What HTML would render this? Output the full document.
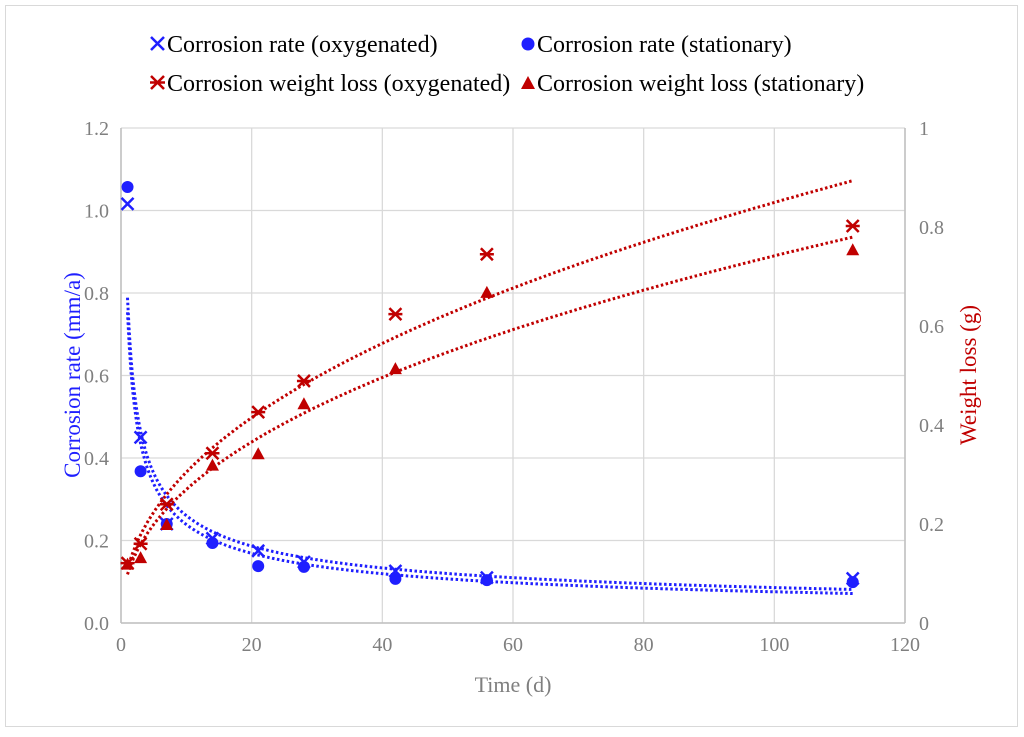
<!DOCTYPE html>
<html><head><meta charset="utf-8"><style>
html,body{margin:0;padding:0;background:#fff;}
svg text{font-family:"Liberation Serif",serif;}
</style></head><body>
<svg id="chart" width="1024" height="732" viewBox="0 0 1024 732" xmlns="http://www.w3.org/2000/svg">
<rect x="5.5" y="5.5" width="1012" height="721" fill="#fff" stroke="#d9d9d9"/>
<g id="grid"></g><g id="axes"></g><g id="trends"></g><g id="marks"></g>
<g font-size="24" fill="#000">
 <g>
  <path d="M151 37 l13 13 M164 37 l-13 13" stroke="#1f1fff" stroke-width="2.5"/>
  <text x="167" y="52">Corrosion rate (oxygenated)</text></g>
 <g>
  <circle cx="528" cy="44" r="6.5" fill="#1f1fff"/>
  <text x="537" y="52">Corrosion rate (stationary)</text></g>
 <g>
  <path d="M151 76 l13 13 M164 76 l-13 13 M150 82.5 h15" stroke="#c00000" stroke-width="2.5"/>
  <text x="167" y="91">Corrosion weight loss (oxygenated)</text></g>
 <g>
  <path d="M521 89 l7 -13 l7 13 z" fill="#c00000"/>
  <text x="537" y="91">Corrosion weight loss (stationary)</text></g>
</g>
<text x="80" y="375" transform="rotate(-90 80 375)" text-anchor="middle" font-size="23" fill="#1f1fff">Corrosion rate (mm/a)</text>
<text x="976" y="375" transform="rotate(-90 976 375)" text-anchor="middle" font-size="23" fill="#c00000">Weight loss (g)</text>
<text x="513" y="692" text-anchor="middle" font-size="22" fill="#7f7f7f">Time (d)</text>
</svg>
<script>
const days=[1,3,7,14,21,28,42,56,112];
const rateOxy=[1.016,0.45,0.24,0.205,0.175,0.148,0.126,0.11,0.108];
const rateSta=[1.057,0.368,0.24,0.194,0.138,0.136,0.107,0.104,0.099];
const lossOxy=[0.121,0.16,0.24,0.343,0.426,0.489,0.624,0.745,0.802];
const lossSta=[0.12,0.133,0.2,0.32,0.343,0.444,0.515,0.669,0.755];
const xTicks=[0,20,40,60,80,100,120];
const yLeftTicks=["0.0","0.2","0.4","0.6","0.8","1.0","1.2"];
const yRightTicks=["0","0.2","0.4","0.6","0.8","1"];
const NS="http://www.w3.org/2000/svg";
const X0=121,X1=905,Y0=623,Y1=128;
const sx=v=>X0+v/120*(X1-X0);
const syL=v=>Y0-v/1.2*(Y0-Y1);
const syR=v=>Y0-v/1.0*(Y0-Y1);
function mk(tag,at,parent){const e=document.createElementNS(NS,tag);for(const k in at)e.setAttribute(k,at[k]);document.getElementById(parent).appendChild(e);return e;}
xTicks.forEach(t=>{
 const l=mk('line',{x1:sx(t),x2:sx(t),y1:Y1,y2:Y0,stroke:'#d9d9d9','stroke-width':1.3},'grid');
 
 
 const tx=mk('text',{x:sx(t),y:Y0+28,'text-anchor':'middle','font-size':20,fill:'#7f7f7f'},'axes');tx.textContent=t;
 
 
});
yLeftTicks.forEach(t=>{
 const v=parseFloat(t);
 const l=mk('line',{x1:X0,x2:X1,y1:syL(v),y2:syL(v),stroke:'#d9d9d9','stroke-width':1.3},'grid');
 
 
 const tx=mk('text',{x:X0-12,y:syL(v)+7,'text-anchor':'end','font-size':20,fill:'#7f7f7f'},'axes');tx.textContent=t;
 
 
});
yRightTicks.forEach(t=>{
 const v=parseFloat(t);
 const tx=mk('text',{x:X1+14,y:syR(v)+7,'text-anchor':'start','font-size':20,fill:'#7f7f7f'},'axes');tx.textContent=t;
 
 
});
[[X0,Y0,X1,Y0],[X0,Y1,X0,Y0],[X1,Y1,X1,Y0]].forEach(a=>{
 const l=mk('line',{x1:a[0],y1:a[1],x2:a[2],y2:a[3],stroke:'#bfbfbf','stroke-width':1.5},'axes');
 
 
});
function fit(xs,ys){let n=xs.length,a=0,b=0,c=0,d=0;for(let i=0;i<n;i++){const lx=Math.log(xs[i]),ly=Math.log(ys[i]);a+=lx;b+=ly;c+=lx*lx;d+=lx*ly;}const k=(n*d-a*b)/(n*c-a*a);const A=Math.exp((b-k*a)/n);return x=>A*Math.pow(x,k);}
function trend(ys,sy,color,name){const f=fit(days,ys);let p='';for(let x=days[0];x<=days[days.length-1]+0.001;x+=0.25){p+=(p?'L':'M')+sx(x).toFixed(1)+' '+sy(f(x)).toFixed(1);}
 const e=mk('path',{d:p,fill:'none',stroke:color,'stroke-width':3,'stroke-dasharray':'2.5 2.5'},'trends');
 
 }
trend(rateOxy,syL,'#1f1fff','trendline-rate-oxygenated');
trend(rateSta,syL,'#1f1fff','trendline-rate-stationary');
trend(lossOxy,syR,'#c00000','trendline-loss-oxygenated');
trend(lossSta,syR,'#c00000','trendline-loss-stationary');
days.forEach((d,i)=>{
 const x=sx(d);
 let y=syL(rateOxy[i]);
 let e=mk('path',{d:`M${x-6} ${y-6}l12 12M${x+6} ${y-6}l-12 12`,stroke:'#1f1fff','stroke-width':2.5},'marks');
 
 
 y=syL(rateSta[i]);
 e=mk('circle',{cx:x,cy:y,r:6,fill:'#1f1fff'},'marks');
 
 
 y=syR(lossOxy[i]);
 e=mk('path',{d:`M${x-6} ${y-6}l12 12M${x+6} ${y-6}l-12 12M${x-7} ${y}h14`,stroke:'#c00000','stroke-width':2.5},'marks');
 
 
 y=syR(lossSta[i]);
 e=mk('path',{d:`M${x-6.5} ${y+6}l6.5 -12l6.5 12z`,fill:'#c00000'},'marks');
 
 
});
</script>
</body></html>
